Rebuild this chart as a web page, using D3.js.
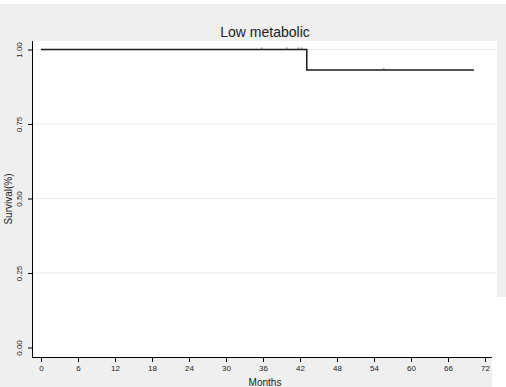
<!DOCTYPE html>
<html>
<head>
<meta charset="utf-8">
<script src="https://cdn.jsdelivr.net/npm/d3@7"></script>
<style>
  body { margin: 0; background: #fff; }
  text { font-family: "Liberation Sans", Arial, sans-serif; fill: #222; }
</style>
</head>
<body>
<div id="chart"></div>
<script>
// Kaplan-Meier curve values
const stepTimes = [0, 43.1, 70.2];
const stepSurv = [1, 0.931, 0.931];
const censorTimes = [35.8, 39.9, 41.7, 42.2, 55.6];
const xTicks = [0, 6, 12, 18, 24, 30, 36, 42, 48, 54, 60, 66, 72];
const yTicks = [0, 0.25, 0.5, 0.75, 1];

const W = 506, H = 387;
const svg = d3.select("#chart").append("svg")
  .attr("width", W)
  .attr("height", H);

// outer grey panel
svg.append("rect")
  .attr("x", 0).attr("y", 4)
  .attr("width", W).attr("height", H - 4)
  .attr("fill", "#efefef");

// plot region
const plotLeft = 33, plotRight = 497, plotTop = 41, plotBottom = 357;
svg.append("rect")
  .attr("x", plotLeft).attr("y", plotTop)
  .attr("width", plotRight - plotLeft).attr("height", plotBottom - plotTop)
  .attr("fill", "#fff");

// odd white patch at lower right
svg.append("rect")
  .attr("x", 492).attr("y", 297)
  .attr("width", W - 492).attr("height", H - 297)
  .attr("fill", "#fff");

const x = d3.scaleLinear().domain([0, 72]).range([41, 485]);
const y = d3.scaleLinear().domain([0, 1]).range([347.5, 49.5]);

// grid lines
svg.selectAll("line.hgrid")
  .data(yTicks.slice(1))
  .enter()
  .append("line")
  .attr("class", "hgrid")
  .attr("x1", plotLeft).attr("x2", plotRight)
  .attr("y1", d => y(d)).attr("y2", d => y(d))
  .style("stroke", "#e8e8e8")
  .style("stroke-width", 1);

// x axis
const xAxis = d3.axisBottom(x)
  .tickValues(xTicks)
  .tickSize(5)
  .tickSizeOuter(0)
  .tickFormat(d3.format("d"));
const gx = svg.append("g")
  .attr("transform", `translate(0, ${plotBottom})`)
  .call(xAxis);
gx.select(".domain").remove();
gx.append("line")
  .attr("x1", plotLeft).attr("x2", 492)
  .attr("y1", 0.5).attr("y2", 0.5)
  .attr("stroke", "#000");
gx.selectAll(".tick line").attr("stroke", "#000");
gx.selectAll(".tick text")
  .attr("y", 8)
  .attr("dy", "0.71em")
  .style("font-size", "8px")
  .style("font-family", "Liberation Sans, Arial, sans-serif")
  .attr("fill", "#222");

// y axis
const yAxis = d3.axisLeft(y)
  .tickValues(yTicks)
  .tickSize(5)
  .tickSizeOuter(0)
  .tickFormat(d3.format(".2f"));
const gy = svg.append("g")
  .attr("transform", `translate(${plotLeft}, 0)`)
  .call(yAxis);
gy.select(".domain").remove();
gy.append("line")
  .attr("x1", -0.5).attr("x2", -0.5)
  .attr("y1", plotTop).attr("y2", plotBottom + 1)
  .attr("stroke", "#000");
gy.selectAll(".tick line").attr("stroke", "#000");
gy.selectAll(".tick text")
  .attr("x", 0).attr("dy", 0)
  .attr("text-anchor", "middle")
  .attr("transform", "translate(-11, 0) rotate(-90)")
  .style("font-size", "8px")
  .style("font-family", "Liberation Sans, Arial, sans-serif")
  .attr("fill", "#222");

// survival step line
const kmData = stepTimes.map((t, i) => ({ t: t, s: stepSurv[i] }));
const line = d3.line()
  .x(d => x(d.t))
  .y(d => y(d.s))
  .curve(d3.curveStepAfter);
svg.append("path")
  .datum(kmData)
  .attr("fill", "none")
  .attr("stroke", "#1a1a1a")
  .attr("stroke-width", 1.5)
  .attr("d", line);

// censor marks
function survAt(t) {
  let s = stepSurv[0];
  stepTimes.forEach((st, i) => { if (st <= t) s = stepSurv[i]; });
  return s;
}
svg.selectAll("line.censor")
  .data(censorTimes)
  .enter()
  .append("line")
  .attr("class", "censor")
  .attr("x1", d => x(d)).attr("x2", d => x(d))
  .attr("y1", d => y(survAt(d)) - 2).attr("y2", d => y(survAt(d)))
  .attr("stroke", "#555")
  .attr("stroke-width", 1);

// titles
svg.append("text")
  .attr("x", 265).attr("y", 37)
  .attr("text-anchor", "middle")
  .style("font-size", "14px")
  .text("Low metabolic");

svg.append("text")
  .attr("x", 265).attr("y", 386)
  .attr("text-anchor", "middle")
  .style("font-size", "10px")
  .text("Months");

svg.append("text")
  .attr("transform", "translate(12, 199) rotate(-90)")
  .attr("text-anchor", "middle")
  .style("font-size", "10px")
  .text("Survival(%)");
</script>
</body>
</html>
